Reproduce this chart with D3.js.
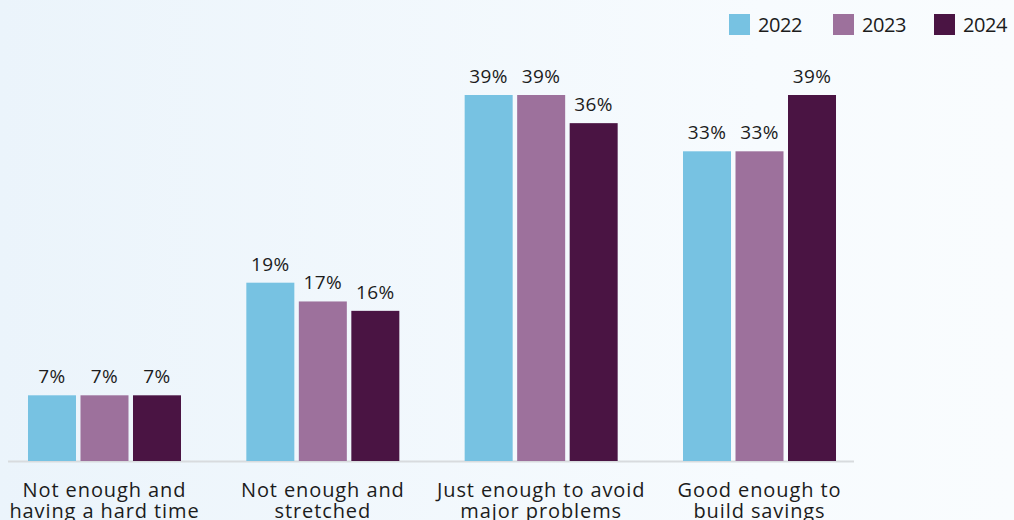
<!DOCTYPE html>
<html><head><meta charset="utf-8">
<script src="https://cdn.jsdelivr.net/npm/d3@7"></script>
<style>html,body{margin:0;padding:0;overflow:hidden;}svg{display:block;}</style>
</head><body>
<svg id="chart" width="1014" height="520"></svg>
<script>
const categories = [
  ["Not enough and", "having a hard time"],
  ["Not enough and", "stretched"],
  ["Just enough to avoid", "major problems"],
  ["Good enough to", "build savings"]
];
const seriesNames = ["2022", "2023", "2024"];
const values2022 = [7, 19, 39, 33];
const values2023 = [7, 17, 39, 33];
const values2024 = [7, 16, 36, 39];
const seriesValues = [values2022, values2023, values2024];
const colors = ["#77c2e2", "#9d719c", "#4a1443"];

const svg = d3.select("#chart");
const W = 1014, H = 520;
const defs = svg.append("defs");
const grad = defs.append("linearGradient").attr("id", "bg").attr("x1", "0").attr("x2", "1").attr("y1", "0").attr("y2", "0");
grad.append("stop").attr("offset", "0").attr("stop-color", "#ebf4fb");
grad.append("stop").attr("offset", "0.75").attr("stop-color", "#f7fbfe");
grad.append("stop").attr("offset", "1").attr("stop-color", "#f9fcfe");
svg.append("rect").attr("width", W).attr("height", H).attr("fill", "url(#bg)");

const catKeys = categories.map((c, i) => i);
const x0 = d3.scaleBand().domain(catKeys).range([-4.67, 868.67]).padding(0);
const groupW = 153;
const x1 = d3.scaleBand().domain(seriesNames).range([0, groupW]).paddingInner(0.0857).paddingOuter(0);
const y = d3.scaleLinear().domain([0, 39]).range([461, 95]);
const font = "'Open Sans', 'Noto Sans', sans-serif";

// axis baseline
const xAxis = d3.axisBottom(x0).tickSize(0).tickFormat("");
const axisG = svg.append("g").attr("transform", `translate(0,${y(0)})`).call(xAxis);
axisG.select(".domain").remove();
axisG.append("line").attr("x1", 8).attr("x2", 854).attr("y1", 0.5).attr("y2", 0.5)
  .attr("stroke", "#d8dbde").attr("stroke-width", 2);

// category labels
const catG = svg.append("g");
catKeys.forEach(i => {
  const cx = x0(i) + x0.bandwidth() / 2;
  const t = catG.append("text").attr("x", cx).attr("y", 496.5)
    .attr("text-anchor", "middle").attr("font-family", font).attr("font-size", 20)
    .attr("fill", "#1c1c1c").attr("letter-spacing", 0.9);
  categories[i].forEach((line, j) => {
    t.append("tspan").attr("x", cx).attr("dy", j === 0 ? 0 : 21).text(line);
  });
});

// bars
const groups = svg.append("g").selectAll("g").data(catKeys).join("g")
  .attr("transform", i => `translate(${x0(i) + x0.bandwidth() / 2 - groupW / 2},0)`);
groups.selectAll("rect").data(i => seriesNames.map((s, k) => ({s, k, v: seriesValues[k][i]})))
  .join("rect")
  .attr("x", d => x1(d.s)).attr("width", x1.bandwidth())
  .attr("y", d => y(d.v)).attr("height", d => y(0) - y(d.v))
  .attr("fill", d => colors[d.k]);
groups.selectAll("text").data(i => seriesNames.map((s, k) => ({s, k, v: seriesValues[k][i]})))
  .join("text")
  .attr("x", d => x1(d.s) + x1.bandwidth() / 2).attr("y", d => y(d.v) - 12)
  .attr("text-anchor", "middle").attr("font-family", font).attr("font-size", 19)
  .attr("letter-spacing", 0.4)
  .attr("fill", "#1c1c1c").text(d => d.v + "%");

// legend
const legendX = [729, 833, 934];
const leg = svg.append("g").selectAll("g").data(seriesNames).join("g")
  .attr("transform", (d, k) => `translate(${legendX[k]},14)`);
leg.append("rect").attr("width", 21).attr("height", 21).attr("fill", (d, k) => colors[k]);
leg.append("text").attr("x", 29).attr("y", 17.5).attr("font-family", font).attr("font-size", 20)
  .attr("letter-spacing", -0.4)
  .attr("fill", "#1c1c1c").text(d => d);
</script>
</body></html>
